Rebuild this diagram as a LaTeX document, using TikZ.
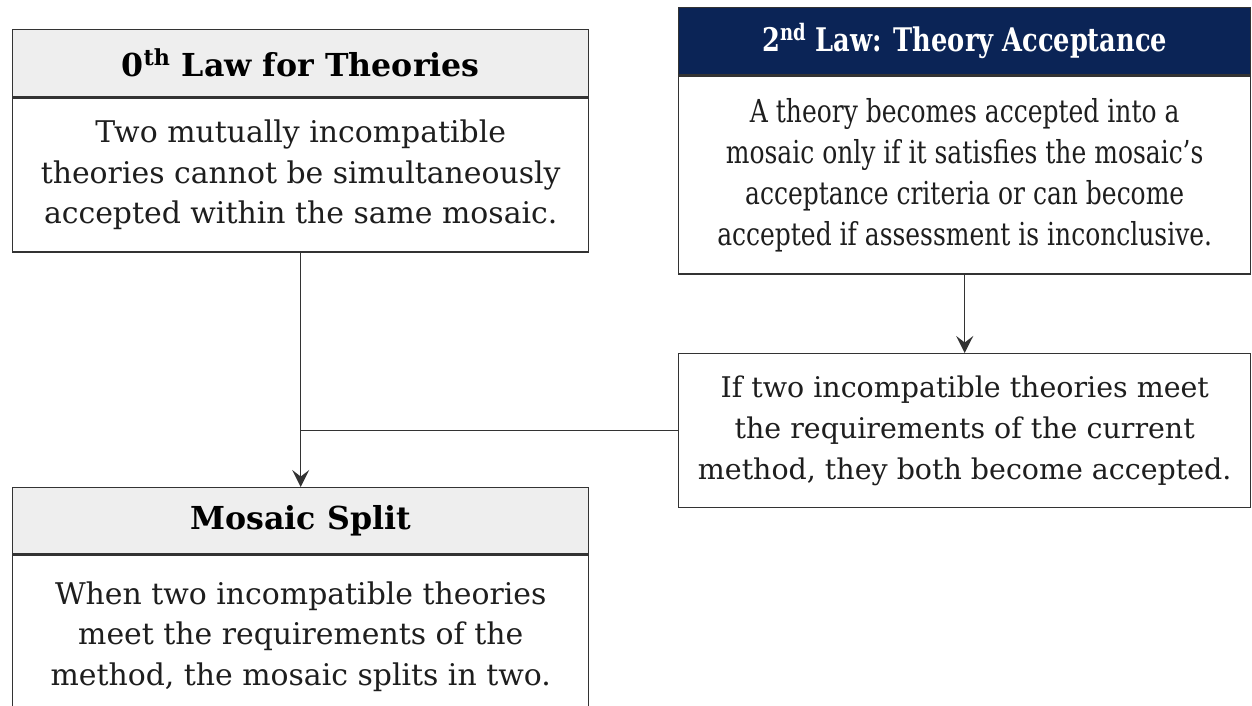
\documentclass[tikz,border=0pt]{standalone}
\usepackage{fontspec}
\setmainfont{DejaVu Serif}
\newfontfamily\narrowserif[FakeStretch=0.79]{DejaVu Serif}
\usepackage{xcolor}
\usetikzlibrary{positioning, arrows.meta}

\definecolor{navyhead}{HTML}{0B2456}
\definecolor{headgray}{HTML}{EEEEEE}
\definecolor{edgegray}{HTML}{333333}
\definecolor{inkgray}{HTML}{1E1E1E}

\begin{document}
\begin{tikzpicture}[
  node distance=0pt,
  head/.style={draw=edgegray, line width=0.8pt, fill=headgray, minimum height=1.34cm, align=center, inner sep=0pt, text=black, font=\fontsize{18}{20}\selectfont\bfseries},
  darkhead/.style={head, fill=navyhead, text=white, font=\narrowserif\fontsize{18.5}{20}\selectfont\bfseries},
  body/.style={draw=edgegray, line width=0.8pt, fill=white, align=center, inner sep=0pt, text=inkgray, font=\fontsize{17}{23}\selectfont},
  arrow/.style={-{Stealth[length=3.4mm, width=3.4mm, inset=1.3mm]}, line width=0.8pt, draw=edgegray},
  link/.style={line width=0.8pt, draw=edgegray}
]
\useasboundingbox (0,0) rectangle (25.04,-14.1);

% left column
\node[head, minimum width=11.52cm, anchor=north west] (zeroHead) at (0.24,-0.58) {0\textsuperscript{th} Law for Theories};
\node[body, minimum width=11.52cm, minimum height=3.08cm, below=of zeroHead] (zeroBody) {Two mutually incompatible\\theories cannot be simultaneously\\accepted within the same mosaic.};

\node[head, minimum width=11.52cm, minimum height=1.32cm, anchor=north west] (splitHead) at (0.24,-9.74) {Mosaic Split};
\node[body, minimum width=11.52cm, minimum height=3.26cm, below=of splitHead] (splitBody) {When two incompatible theories\\meet the requirements of the\\method, the mosaic splits in two.};

% right column
\node[darkhead, minimum width=11.44cm, anchor=north west] (secondHead) at (13.56,-0.14) {2\textsuperscript{nd} Law: Theory Acceptance};
\node[body, minimum width=11.44cm, minimum height=3.96cm, below=of secondHead, font=\narrowserif\fontsize{18}{23.3}\selectfont] (secondBody) {A theory becomes accepted into a\\mosaic only if it satisfies the mosaic’s\\acceptance criteria or can become\\accepted if assessment is inconclusive.};

\node[body, minimum width=11.44cm, minimum height=3.08cm, anchor=north west, font=\fontsize{16.2}{23.3}\selectfont] (bothBody) at (13.56,-7.06) {If two incompatible theories meet\\the requirements of the current\\method, they both become accepted.};

% connectors
\draw[arrow] (zeroBody.south) -- (splitHead.north);
\draw[arrow] (secondBody.south) -- (bothBody.north);
\draw[link] (bothBody.west) -- (zeroBody.south |- bothBody.west);

\end{tikzpicture}
\end{document}
